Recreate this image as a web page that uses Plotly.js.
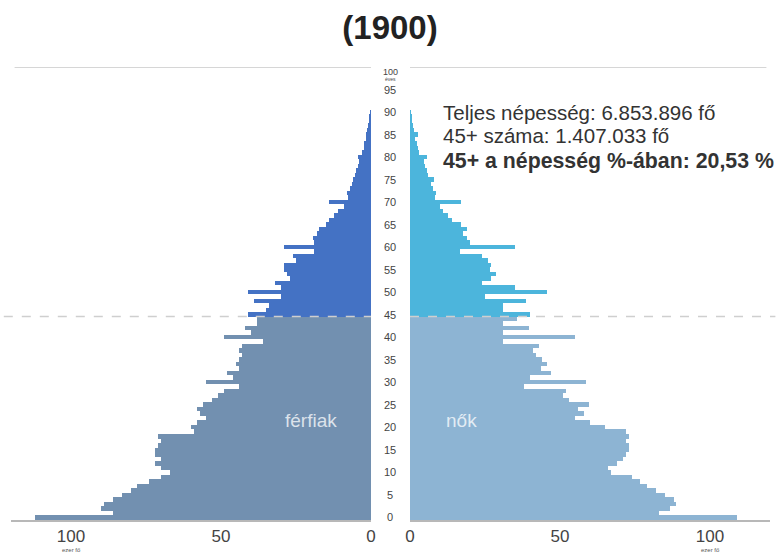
<!DOCTYPE html>
<html>
<head>
<meta charset="utf-8">
<script src="https://cdn.plot.ly/plotly-3.0.1.min.js"></script>
<style>html,body{margin:0;padding:0;background:#fff;}#chart{width:780px;height:559px;}</style>
</head>
<body>
<div id="chart"></div>
<script>
// Ages 0..90
const ages = [];
for (let a = 0; a <= 90; a++) ages.push(a);

// Men (férfiak), thousand persons, by single year of age 0..90
const men = [112, 86, 90, 89, 86, 83, 80, 78, 74, 70,
  67, 70, 72, 70, 72, 72, 71, 70, 71, 59,
  60, 58, 55, 57, 58, 56, 53, 51, 49, 44,
  55, 46, 48, 44, 45, 44, 43, 44, 43, 36,
  49, 40, 42, 38, 38, 41, 35, 34, 39, 30,
  41, 30, 32, 27, 28, 29, 29, 25, 26, 19,
  29, 19, 19.5, 18, 17.5, 15, 14, 12.5, 11, 9,
  14, 7.7, 8, 7, 6.5, 6, 5.5, 5, 4.5, 4,
  4.5, 3, 2.5, 2.2, 1.8, 1.6, 1.2, 1, 0.8, 0.6, 0.5];

// Women (nők), thousand persons, by single year of age 0..90
const women = [109, 83, 86.5, 88.5, 88, 85, 82, 79, 76.5, 74,
  67, 66, 69, 71, 72, 73, 73, 72, 73, 72,
  65, 60, 55, 58, 56, 59.5, 53, 51, 52, 38,
  58.5, 40, 47, 43.5, 45.5, 44, 42, 41, 43, 31,
  55, 31, 39.5, 31, 35.5, 40, 31, 31, 38.5, 25,
  45.5, 35, 24, 27, 28.5, 26.5, 27, 26, 24, 16.5,
  35, 20, 19, 17.5, 19, 17, 14, 12.5, 11, 10,
  17, 8.3, 8.5, 7.8, 7, 8, 6, 5.5, 5, 4.5,
  5.5, 3, 2.6, 2.2, 1.8, 2.5, 1.2, 1, 0.8, 0.6, 0.4];

const splitAge = 45;
const ageTicks = [0, 5, 10, 15, 20, 25, 30, 35, 40, 45, 50, 55, 60, 65, 70, 75, 80, 85, 90, 95];
const xTicks = [0, 50, 100];
const infoLines = ['Teljes népesség: 6.853.896 fő', '45+ száma: 1.407.033 fő', '<b>45+ a népesség %-ában: 20,53 %</b>'];
const infoAges = [89.8, 84.7, 79.1];

const FONT = 'Liberation Sans, Arial, sans-serif';
const colMenLow = '#7290b0', colMenHigh = '#4472c4';
const colWomLow = '#8db4d3', colWomHigh = '#4cb5dc';

// plot area: top y=67px, bottom y=520px
const PT = 67, PB = 520;
function py(px) { return (PB - px) / (PB - PT); }

function part(arr, high) {
  const x = [], y = [];
  ages.forEach((a, i) => { if ((a >= splitAge) === high) { x.push(arr[i]); y.push(a); } });
  return {x, y};
}
function bar(arr, high, xa, color, name) {
  const p = part(arr, high);
  return {type: 'bar', orientation: 'h', x: p.x, y: p.y, xaxis: xa, yaxis: 'y',
    marker: {color: color, line: {width: 0}}, name: name, hoverinfo: 'x+y', width: 1};
}

const traces = [
  bar(men, false, 'x', colMenLow, 'férfiak'),
  bar(men, true, 'x', colMenHigh, 'férfiak 45+'),
  bar(women, false, 'x2', colWomLow, 'nők'),
  bar(women, true, 'x2', colWomHigh, 'nők 45+')
];

const annotations = [];
ageTicks.forEach(a => annotations.push({xref: 'paper', x: 0.5, yref: 'y', y: a, text: String(a),
  showarrow: false, font: {family: FONT, size: 11, color: '#444'}}));
annotations.push({xref: 'paper', x: 0.5, yref: 'paper', y: py(65), text: '100', showarrow: false,
  font: {family: FONT, size: 9, color: '#444'}});
annotations.push({xref: 'paper', x: 0.5, yref: 'paper', y: py(74), text: 'éves', showarrow: false,
  font: {family: FONT, size: 5, color: '#444'}});
infoLines.forEach((t, i) => annotations.push({xref: 'paper', x: 441 / 780, xanchor: 'left', yref: 'y', y: infoAges[i],
  text: t, showarrow: false, font: {family: FONT, size: i === 2 ? 21.3 : 20.5, color: '#333'}}));
annotations.push({xref: 'x', x: 20, yref: 'y', y: 21.5, text: 'férfiak', showarrow: false,
  font: {family: FONT, size: 19, color: 'rgba(255,255,255,0.75)'}});
annotations.push({xref: 'x2', x: 17, yref: 'y', y: 21.5, text: 'nők', showarrow: false,
  font: {family: FONT, size: 19, color: 'rgba(255,255,255,0.75)'}});
annotations.push({xref: 'x', x: 100, yref: 'paper', y: py(555), text: 'ezer fő', showarrow: false,
  font: {family: FONT, size: 6, color: '#555'}});
annotations.push({xref: 'x2', x: 100, yref: 'paper', y: py(555), text: 'ezer fő', showarrow: false,
  font: {family: FONT, size: 6, color: '#555'}});

const shapes = [
  {type: 'line', xref: 'x domain', x0: 0.01, x1: 1, yref: 'y', y0: 100, y1: 100, line: {color: '#c8c8c8', width: 1.5}},
  {type: 'line', xref: 'x2 domain', x0: 0, x1: 0.99, yref: 'y', y0: 100, y1: 100, line: {color: '#c8c8c8', width: 1.5}},
  {type: 'line', xref: 'x domain', x0: -0.02, x1: 1, yref: 'y', y0: 44.6, y1: 44.6, layer: 'above', line: {color: '#cfcfcf', width: 1.5, dash: 'dash'}},
  {type: 'line', xref: 'x2 domain', x0: 0, x1: 1.015, yref: 'y', y0: 44.6, y1: 44.6, layer: 'above', line: {color: '#cfcfcf', width: 1.5, dash: 'dash'}}
];

const axisCommon = {tickvals: xTicks, ticktext: xTicks.map(String), ticks: '', showgrid: false, zeroline: false,
  showline: true, linecolor: '#b8b8b8', linewidth: 2, tickfont: {family: FONT, size: 17, color: '#444'}, anchor: 'y', fixedrange: true};

const layout = {
  width: 780, height: 559,
  margin: {l: 0, r: 0, t: PT, b: 559 - PB},
  paper_bgcolor: '#fff', plot_bgcolor: '#fff',
  showlegend: false, barmode: 'overlay', bargap: 0,
  font: {family: FONT, color: '#333'},
  title: {text: '<b>(1900)</b>', font: {family: FONT, size: 33, color: '#222'}, x: 0.5, xanchor: 'center',
    yref: 'container', y: 1 - 27 / 559, yanchor: 'middle'},
  xaxis: Object.assign({}, axisCommon, {domain: [11 / 780, 371 / 780], range: [120, 0]}),
  xaxis2: Object.assign({}, axisCommon, {domain: [410 / 780, 770 / 780], range: [0, 120]}),
  yaxis: {range: [-0.6, 100], showticklabels: false, showgrid: false, zeroline: false, showline: false, ticks: '', fixedrange: true},
  annotations: annotations,
  shapes: shapes
};

Plotly.newPlot('chart', traces, layout, {displayModeBar: false, staticPlot: true});
</script>
</body>
</html>
